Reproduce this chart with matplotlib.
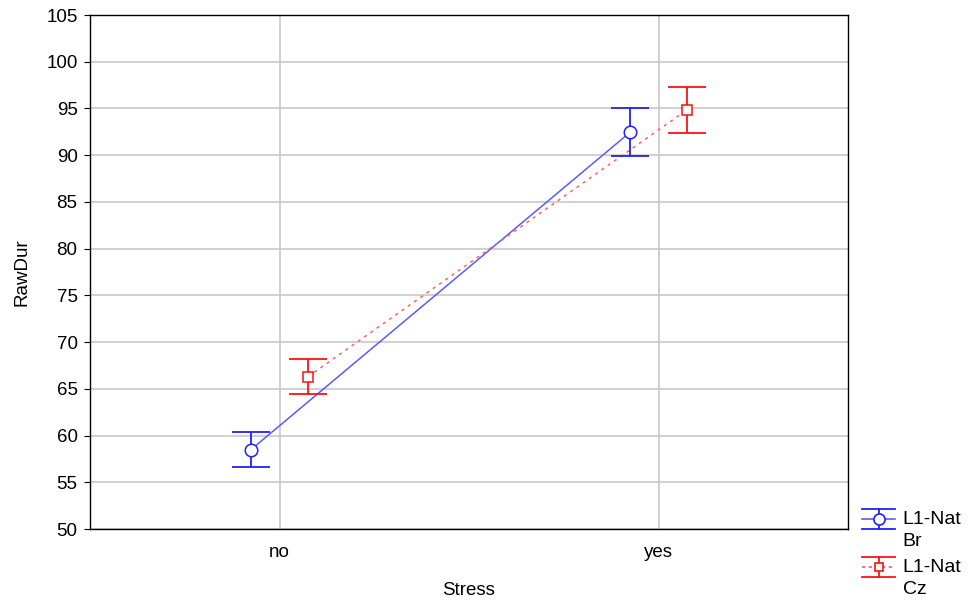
import matplotlib
matplotlib.use("Agg")
import matplotlib.pyplot as plt
import numpy as np
from matplotlib.lines import Line2D
from matplotlib.legend_handler import HandlerBase

plt.rcParams['font.family'] = ['Liberation Sans', 'DejaVu Sans']

categories = ["no", "yes"]
br_mean = [58.5, 92.45]
br_err = [1.9, 2.55]
cz_mean = [66.3, 94.85]
cz_err = [1.9, 2.45]
labels = ["L1-Nat\nBr", "L1-Nat\nCz"]

fig = plt.figure(figsize=(9.74, 6.03), dpi=100)
ax = fig.add_axes([90/974, 1-529/603, (848-90)/974, (529-15)/603])

x = np.arange(len(categories))
off = 0.075
blue = "#2020ff"
red = "#ff1010"
fs = 13.5

ax.plot(x - off, br_mean, color="#5a5aff", lw=1.1, zorder=3)
ax.errorbar(x - off, br_mean, yerr=br_err, fmt='none', ecolor=blue, elinewidth=1.3, capsize=14, capthick=1.3, zorder=4)
ax.plot(x - off, br_mean, 'o', ms=9, mfc='white', mec=blue, mew=1.1, zorder=5)

ax.plot(x + off, cz_mean, color="#ff6060", lw=1.1, ls=(0, (2, 3)), zorder=3)
ax.errorbar(x + off, cz_mean, yerr=cz_err, fmt='none', ecolor=red, elinewidth=1.3, capsize=14, capthick=1.3, zorder=4)
ax.plot(x + off, cz_mean, 's', ms=7, mfc='white', mec=red, mew=1.1, zorder=5)

ax.set_xlim(-0.5, 1.5)
ax.set_ylim(50, 105)
ax.set_yticks(np.arange(50, 106, 5))
ax.set_xticks(x)
ax.set_xticklabels(categories)
ax.grid(True, color="#c8c8c8", lw=1.2)
ax.set_axisbelow(True)
ax.tick_params(axis='y', direction='out', length=4, labelsize=fs, color='black', pad=5)
ax.tick_params(axis='x', length=0, labelsize=fs, pad=11)
for s in ax.spines.values():
    s.set_color('black')
    s.set_linewidth(1.0)
ax.set_xlabel("Stress", fontsize=fs, labelpad=15)
ax.set_ylabel("RawDur", fontsize=fs, labelpad=11)


class ErrHandle:
    def __init__(self, color, lcolor, ls, marker, ms):
        self.color, self.lcolor, self.ls, self.marker, self.ms = color, lcolor, ls, marker, ms


class ErrHandler(HandlerBase):
    def create_artists(self, legend, orig, xd, yd, w, h, fs_, trans):
        cy = yd + h * 0.78 + 5.5
        half = 7.2
        arts = []
        arts.append(Line2D([xd, xd + w], [cy, cy], color=orig.lcolor, ls=orig.ls, lw=1.2, transform=trans))
        arts.append(Line2D([xd, xd + w], [cy + half, cy + half], color=orig.color, lw=1.3, transform=trans))
        arts.append(Line2D([xd, xd + w], [cy - half, cy - half], color=orig.color, lw=1.3, transform=trans))
        arts.append(Line2D([xd + w / 2, xd + w / 2], [cy - half, cy + half], color=orig.color, lw=1.3, transform=trans))
        arts.append(Line2D([xd + w / 2], [cy], marker=orig.marker, ms=orig.ms, mfc='white', mec=orig.color, mew=1.2, ls='none', transform=trans))
        return arts


h1 = ErrHandle(blue, "#5a5aff", '-', 'o', 8)
h2 = ErrHandle(red, "#ff6060", (0, (2, 2)), 's', 6)
leg = fig.legend([h1, h2], labels, loc='lower left', bbox_to_anchor=(862/974, 0.008),
                 frameon=False, fontsize=14, handlelength=1.7, handletextpad=0.4,
                 labelspacing=0.45, borderpad=0.0, borderaxespad=0.0,
                 handler_map={ErrHandle: ErrHandler()})
for t in leg.get_texts():
    t.set_linespacing(1.4)

fig.savefig("out.png", dpi=100)
